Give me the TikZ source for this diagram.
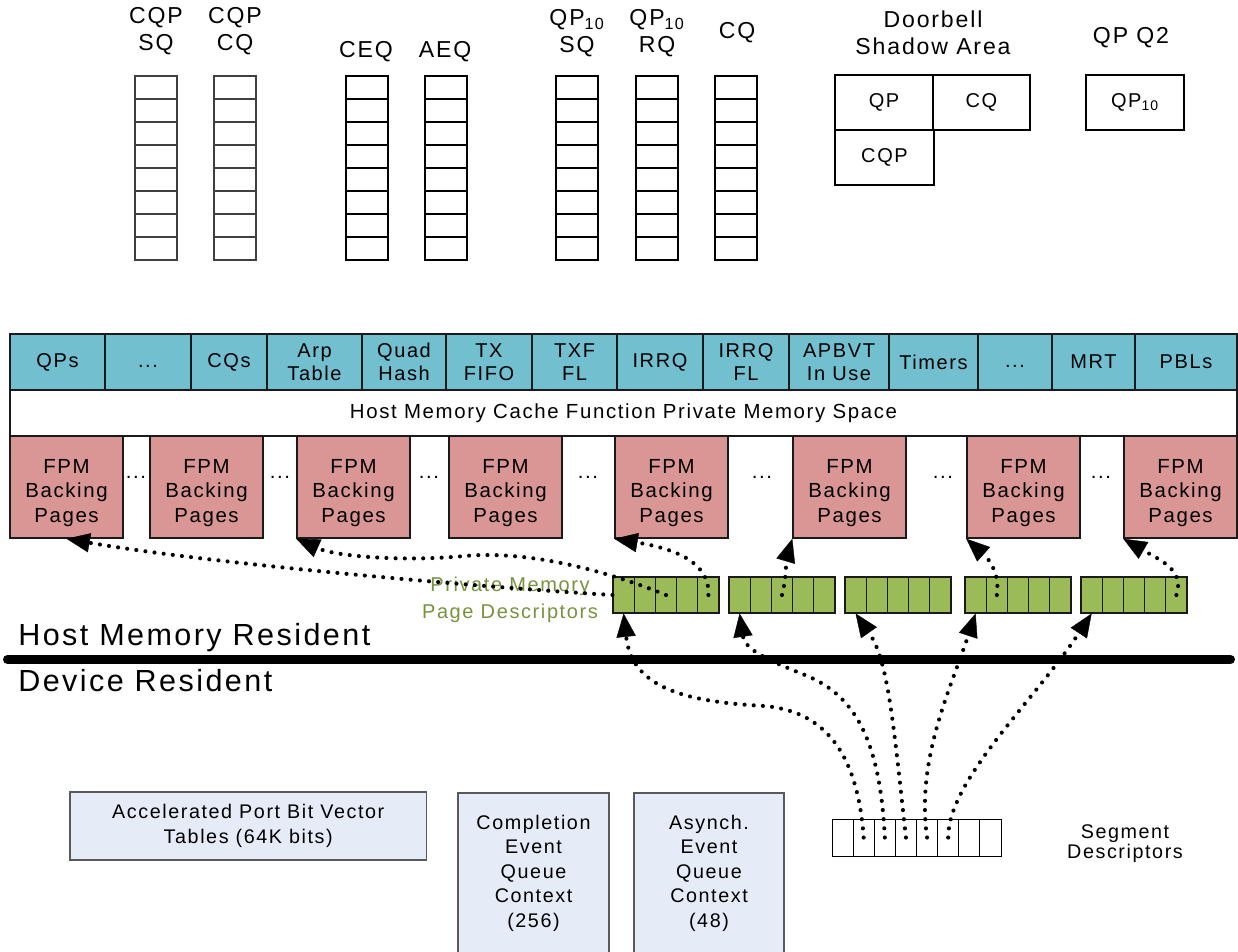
\documentclass[tikz,border=0pt]{standalone}
\usepackage{fontspec}
\setmainfont{Liberation Sans}[LetterSpace=8]
\usetikzlibrary{arrows.meta}
\definecolor{cyanc}{HTML}{72BFD0}
\definecolor{pinkc}{HTML}{DA9694}
\definecolor{greenc}{HTML}{9BBB59}
\definecolor{boxblue}{HTML}{E6ECF7}
\definecolor{greentext}{HTML}{77933C}
\definecolor{edge}{HTML}{1A1A1A}
\begin{document}
\begin{tikzpicture}[x=0.75pt,y=-0.75pt,
  lab/.style={font=\fontsize{17.3}{20}\selectfont, align=center, inner sep=0pt},
  qthin/.style={draw=black!75, line width=0.8pt},
  qthick/.style={draw=black, line width=1.4pt},
  dbc/.style={draw=black, line width=1.1pt, minimum height=41.25pt, inner sep=0pt, font=\fontsize{15}{17}\selectfont},
  cyc/.style={draw=edge, line width=1.1pt, fill=cyanc, minimum height=42pt, align=center, inner sep=0pt, font=\fontsize{15}{17.2}\selectfont},
  band/.style={draw=edge, line width=1.1pt, fill=white, minimum width=920.25pt, minimum height=34.5pt, inner sep=0pt, font=\fontsize{15.3}{17}\selectfont},
  fpm/.style={draw=edge, line width=1.1pt, fill=pinkc, minimum width=84.75pt, minimum height=76.5pt, inner sep=0pt},
  fpmtext/.style={align=center, inner sep=0pt, font=\fontsize{15.3}{18.4}\selectfont},
  gap/.style={inner sep=0pt, font=\fontsize{15.3}{17}\selectfont},
  gcell/.style={draw=edge, line width=0.8pt, fill=greenc, minimum width=15.9pt, minimum height=27pt, inner sep=0pt},
  scell/.style={draw=black, line width=0.7pt, minimum width=15.84pt, minimum height=27.75pt, inner sep=0pt},
  bbox/.style={draw=black!65, line width=0.8pt, fill=boxblue, align=center, inner sep=0pt, font=\fontsize{14.8}{18.4}\selectfont},
  dotarrow/.style={line width=3.1pt, line cap=round, dash pattern=on 0pt off 6.9pt,
     -{Triangle[length=17.5pt,width=14.5pt,line width=0.3pt]}}
]
\path[use as bounding box, fill=white] (0,0) rectangle (1238,951);

% ---- top queues
\foreach \x in {135,214}
  \foreach \k in {0,...,7}
    \draw[qthin] (\x,{76+\k*23}) rectangle ++(42,23);
\foreach \x in {346,425,556,636,715}
  \foreach \k in {0,...,7}
    \draw[qthick] (\x,{76+\k*23}) rectangle ++(42,23);

\node[lab] (lcqpsq) at (156,31) {CQP\\SQ};
\node[lab] (lcqpcq) at (235,31) {CQP\\CQ};
\node[lab] (lceq) at (366,52) {CEQ};
\node[lab] (laeq) at (445,52) {AEQ};
\node[lab] (lqpsq) at (577,33) {QP\textsubscript{10}\\SQ};
\node[lab] (lqprq) at (657,33) {QP\textsubscript{10}\\RQ};
\node[lab] (lcq) at (737,33) {CQ};
\node[lab] (ldoor) at (933,33) {Doorbell\\Shadow Area};
\node[lab] (lqpq2) at (1131,38) {QP Q2};

% ---- doorbell cells
\node[dbc, minimum width=73.5pt] (dbqp) at (884,102.5) {QP};
\node[dbc, minimum width=72.75pt] (dbcq) at (981.5,102.5) {CQ};
\node[dbc, minimum width=74.25pt] (dbcqp) at (884.5,157.5) {CQP};
\node[dbc, minimum width=73.5pt] (qpqbox) at (1135,102.5) {QP\textsubscript{10}};

% ---- cyan row
\foreach \l/\r/\t [count=\i] in {10/105/QPs, 105/191/{\vphantom{Q}...}, 191/267/CQs, 267/362/Arp\\Table, 362/446/Quad\\Hash, 446/532/TX\\FIFO, 532/617/TXF\\FL, 617/703/IRRQ, 703/789/IRRQ\\FL, 789/889/APBVT\\In Use, 889/978/Timers, 978/1052/{\vphantom{Q}...}, 1052/1135/MRT, 1135/1237/PBLs}
  \node[cyc, minimum width={(\r-\l)*0.75pt}] (c\i) at ({(\l+\r)/2},362) {\t};

\node[band] (hmband) at (623.5,413) {Host Memory Cache Function Private Memory Space};

% ---- FPM backing pages
\foreach \i/\l in {1/10, 2/150, 3/297, 4/449, 5/615, 6/793, 7/967, 8/1124} {
  \node[fpm] (f\i) at ({\l+56.5},487) {};
  \node[fpmtext] (ft\i) at ({\l+56.5},493) {FPM\\Backing\\Pages};
}
\foreach \i/\x in {1/136, 2/280, 3/429, 4/588, 5/762, 6/943, 7/1101}
  \node[gap] (dd\i) at (\x,477) {...};

% ---- private memory page descriptors
\node[font=\fontsize{15}{20.25}\selectfont, text=greentext, align=center, inner sep=0pt] (pmlabel) at (510,600) {Private Memory\\Page Descriptors};
\foreach \i/\gx in {1/613, 2/729, 3/845, 4/965, 5/1081}
  \foreach \j in {1,...,5}
    \node[gcell] (g\i\j) at ({\gx+(\j-0.5)*21.2},595) {};

% ---- divider
\node[anchor=base west, inner sep=0pt, font=\fontsize{22.9}{26}\selectfont] (hmr) at (18,645) {Host Memory Resident};
\coordinate (divL) at (7.5,659.5);
\coordinate (divR) at (1230.5,659.5);
\draw[line width=6.75pt, line cap=round] (divL) -- (divR);
\node[anchor=base west, inner sep=0pt, font=\fontsize{22.9}{26}\selectfont] (dr) at (18,691) {Device Resident};

% ---- device boxes
\node[bbox, minimum width=267.4pt, minimum height=51pt] (apbv) at (248.25,826) {Accelerated Port Bit Vector\\Tables (64K bits)};
\node[bbox, minimum width=113.25pt, minimum height=120pt] (ceqc) at (533.5,873) {Completion\\Event\\Queue\\Context\\(256)};
\node[bbox, minimum width=112.5pt, minimum height=120pt] (aeqc) at (709,873) {Asynch.\\Event\\Queue\\Context\\(48)};

\foreach \j in {1,...,8}
  \node[scell] (s\j) at ({832+(\j-0.5)*21.125},837.5) {};
\node[font=\fontsize{14.8}{15}\selectfont, align=center, inner sep=0pt] (seglabel) at (1125,844) {Segment\\Descriptors};

% ---- connectors: segment descriptors -> page descriptors
\draw[dotarrow] (s2.center) .. controls (858,760) and (830,712) .. (765,706) .. controls (690,702) and (632,690) .. (g11.south);
\draw[dotarrow] (s3.center) .. controls (880,740) and (855,695) .. (805,675) .. controls (770,661) and (745,650) .. (g21.south);
\draw[dotarrow] (s4.center) .. controls (893,720) and (888,660) .. (g31.south);
\draw[dotarrow] (s5.center) .. controls (916,760) and (950,690) .. (g41.south);
\draw[dotarrow] (s6.center) .. controls (948,780) and (1035,700) .. (g51.south);

% ---- connectors: page descriptors -> FPM backing pages
\draw[dotarrow] (g11.west) .. controls (450,585) and (200,562) .. (f1.south);
\draw[dotarrow] (g13.center) .. controls (610,572) and (530,550) .. (465,556) .. controls (400,562) and (335,556) .. (f3.south west);
\draw[dotarrow] (g15.center) .. controls (710,560) and (670,548) .. (f5.south west);
\draw[dotarrow] (g23.center) .. controls (787,575) and (786,560) .. (f6.south west);
\draw[dotarrow] (g42.center) .. controls (1000,575) and (990,560) .. (f7.south west);
\draw[dotarrow] (g55.center) .. controls (1185,570) and (1160,560) .. (f8.south west);
\end{tikzpicture}
\end{document}
